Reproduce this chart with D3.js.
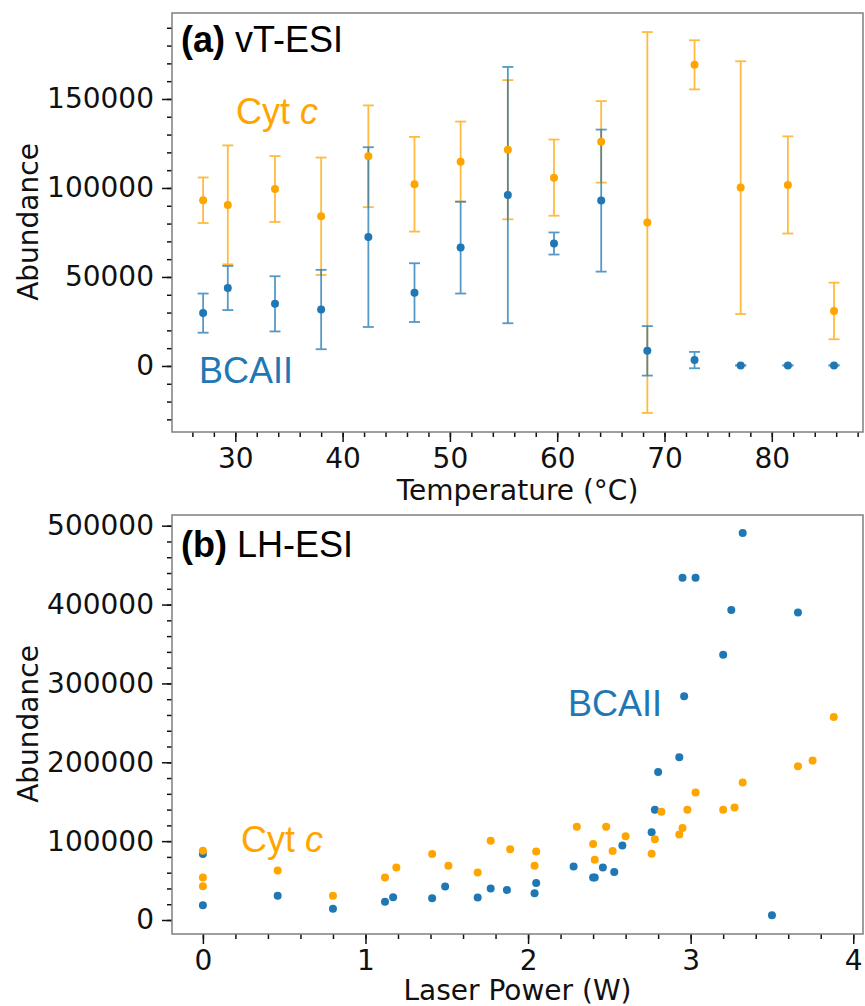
<!DOCTYPE html>
<html>
<head>
<meta charset="utf-8">
<script src="https://cdn.jsdelivr.net/npm/d3@7"></script>
<style>
  body { margin: 0; background: #fff; }
  .tick text { font-family: "DejaVu Sans", sans-serif; font-size: 28px; fill: #111; }
  .tick line { stroke: #111; stroke-width: 1.5; }
  .axis-label { font-family: "DejaVu Sans", sans-serif; font-size: 28px; fill: #111; }
  .note { font-family: "Liberation Sans", Arial, Helvetica, sans-serif; font-size: 36px; }
</style>
</head>
<body>
<div id="chart"></div>
<script>
// Colors
const orange = "#ffa500";
const blue = "#1f77b4";

// Panel (a): vT-ESI, temperature series (mean +/- error)
const tempC   = [27.0, 29.3, 33.7, 38.0, 42.4, 46.7, 51.0, 55.4, 59.7, 64.1, 68.4, 72.8, 77.1, 81.5, 85.8];
const cytMean = [93100, 90500, 99400, 84100, 117800, 102100, 114800, 121500, 105800, 125900, 80600, 169200, 100200, 101700, 30900];
const cytErr  = [12800, 33400, 18500, 33000, 28600, 26600, 22500, 39100, 21400, 22900, 107000, 13800, 71000, 27300, 15900];
const bcaMean = [29700, 43800, 34900, 31700, 72400, 41200, 66500, 96000, 68800, 92900, 8500, 3300, 300, 300, 300];
const bcaErr  = [11000, 12400, 15500, 22300, 50500, 16500, 25800, 72000, 6200, 39900, 13900, 4600, 0, 0, 0];

// Panel (b): LH-ESI, laser power scatter
const cytPower = [0, 0, 0, 0.46, 0.80, 1.12, 1.19, 1.41, 1.51, 1.69, 1.77, 1.89, 2.04, 2.05, 2.30, 2.40, 2.41,
                  2.48, 2.52, 2.60, 2.76, 2.78, 2.82, 2.93, 2.95, 2.98, 3.03, 3.20, 3.27, 3.32, 3.66, 3.75, 3.88];
const cytAbund = [87900, 53900, 42900, 62800, 30600, 53900, 66600, 83700, 68800, 60300, 100600, 89600, 68800, 87000, 118100, 96400, 76400,
                  118100, 87500, 106100, 84100, 102300, 137200, 108300, 116800, 139700, 161800, 139700, 142700, 174500, 194900, 202200, 257300];
const bcaPower = [0, 0, 0.46, 0.80, 1.12, 1.17, 1.41, 1.49, 1.69, 1.77, 1.87, 2.04, 2.05, 2.28, 2.40, 2.41,
                  2.46, 2.53, 2.58, 2.76, 2.78, 2.80, 2.93, 2.95, 2.96, 3.03, 3.20, 3.25, 3.32, 3.50, 3.66];
const bcaAbund = [83700, 18700, 30600, 14400, 23300, 28900, 27600, 42400, 28400, 39900, 38200, 34000, 46800, 67900, 53900, 53900,
                  66600, 60800, 94600, 111200, 139700, 187600, 206400, 434000, 283700, 434000, 336300, 393200, 490800, 6000, 389800];

const W = 865, H = 1006;
const svg = d3.select("#chart").append("svg")
    .attr("width", W)
    .attr("height", H);

const left = 172, right = 863;

// Scales
const xA = d3.scaleLinear().domain([24.1, 88.5]).range([left, right]);
const yA = d3.scaleLinear().domain([-37100, 198300]).range([432, 13]);
const xB = d3.scaleLinear().domain([-0.19, 4.06]).range([left, right]);
const yB = d3.scaleLinear().domain([-17750, 513570]).range([934, 515]);

function drawAxes(x, y, xMajor, xMinor, yMajor, yMinor) {
    const g = svg.append("g");
    const [y0, y1] = y.range();
    // Minor ticks
    g.append("g").attr("transform", `translate(0,${y0})`)
        .call(d3.axisBottom(x).tickValues(xMinor).tickSize(5).tickFormat(""));
    g.append("g").attr("transform", `translate(${left},0)`)
        .call(d3.axisLeft(y).tickValues(yMinor).tickSize(5).tickFormat(""));
    // Major ticks
    g.append("g").attr("transform", `translate(0,${y0})`)
        .call(d3.axisBottom(x).tickValues(xMajor).tickSize(10).tickPadding(6).tickFormat(d3.format("d")));
    g.append("g").attr("transform", `translate(${left},0)`)
        .call(d3.axisLeft(y).tickValues(yMajor).tickSize(10).tickPadding(8).tickFormat(d3.format("d")));
    g.selectAll(".domain").remove();
    // Frame
    g.append("rect")
        .attr("x", left).attr("y", y1)
        .attr("width", right - left).attr("height", y0 - y1)
        .attr("fill", "none")
        .attr("stroke", "#7f7f7f")
        .attr("stroke-width", 1.5);
}

// ---- Panel (a) ----
drawAxes(xA, yA,
    d3.range(30, 81, 10), d3.range(26, 89, 2),
    d3.range(0, 150001, 50000), d3.range(-30000, 190001, 10000));

function errorBars(x, y, xs, means, errs, color) {
    const g = svg.append("g")
        .attr("stroke", color)
        .attr("stroke-width", 1.8)
        .attr("opacity", 0.75);
    xs.forEach((t, i) => {
        const cx = x(t), lo = y(means[i] - errs[i]), hi = y(means[i] + errs[i]);
        g.append("line").attr("x1", cx).attr("x2", cx).attr("y1", lo).attr("y2", hi);
        g.append("line").attr("x1", cx - 5.5).attr("x2", cx + 5.5).attr("y1", lo).attr("y2", lo);
        g.append("line").attr("x1", cx - 5.5).attr("x2", cx + 5.5).attr("y1", hi).attr("y2", hi);
    });
}

function dots(x, y, xs, ys, color) {
    svg.append("g").selectAll("circle")
        .data(xs)
        .join("circle")
        .attr("cx", d => x(d))
        .attr("cy", (d, i) => y(ys[i]))
        .attr("r", 4)
        .attr("fill", color);
}

errorBars(xA, yA, tempC, cytMean, cytErr, orange);
errorBars(xA, yA, tempC, bcaMean, bcaErr, blue);
dots(xA, yA, tempC, cytMean, orange);
dots(xA, yA, tempC, bcaMean, blue);

// ---- Panel (b) ----
drawAxes(xB, yB,
    d3.range(0, 5, 1), d3.range(0, 4.01, 0.2),
    d3.range(0, 500001, 100000), d3.range(0, 500001, 20000));

dots(xB, yB, bcaPower, bcaAbund, blue);
dots(xB, yB, cytPower, cytAbund, orange);

// Axis labels
svg.append("text").attr("class", "axis-label")
    .attr("x", (left + right) / 2).attr("y", 500)
    .attr("text-anchor", "middle").text("Temperature (°C)");
svg.append("text").attr("class", "axis-label")
    .attr("x", (left + right) / 2).attr("y", 1000)
    .attr("text-anchor", "middle").text("Laser Power (W)");
svg.append("text").attr("class", "axis-label")
    .attr("transform", "rotate(-90)")
    .attr("x", -222).attr("y", 38)
    .attr("text-anchor", "middle").text("Abundance");
svg.append("text").attr("class", "axis-label")
    .attr("transform", "rotate(-90)")
    .attr("x", -724).attr("y", 38)
    .attr("text-anchor", "middle").text("Abundance");

// Panel titles and series labels
function title(x, y, tag, name) {
    const t = svg.append("text").attr("class", "note").attr("x", x).attr("y", y).attr("fill", "#000");
    t.append("tspan").attr("font-weight", "bold").text(tag);
    t.append("tspan").text(" " + name);
}
title(181, 52, "(a)", "vT-ESI");
title(181, 557, "(b)", "LH-ESI");

function cytLabel(x, y) {
    const t = svg.append("text").attr("class", "note").attr("x", x).attr("y", y).attr("fill", orange);
    t.append("tspan").text("Cyt ");
    t.append("tspan").attr("font-style", "italic").text("c");
}
cytLabel(236, 124);
cytLabel(241, 852);

svg.append("text").attr("class", "note")
    .attr("x", 199).attr("y", 383).attr("fill", blue).text("BCAII");
svg.append("text").attr("class", "note")
    .attr("x", 568).attr("y", 716).attr("fill", blue).text("BCAII");
</script>
</body>
</html>
